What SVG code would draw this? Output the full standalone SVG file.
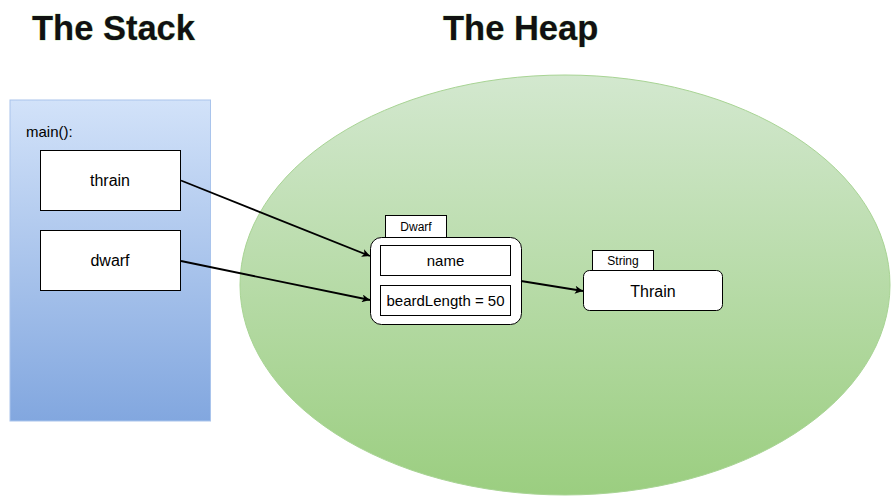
<svg xmlns="http://www.w3.org/2000/svg" width="891" height="501" viewBox="0 0 891 501">
<style>
.title{font-family:"Liberation Sans",Arial,sans-serif;font-weight:bold;font-size:34.5px;fill:#111;stroke:#a6d48f;stroke-width:0.6px;paint-order:stroke}
.t{font-family:"Liberation Sans",Arial,sans-serif;fill:#000;text-anchor:middle}
.box{fill:#fff;stroke:#000;stroke-width:1}
.conn{fill:none;stroke:#000;stroke-width:1.8}
</style>
<defs>
<linearGradient id="gBlue" x1="0" y1="0" x2="0" y2="1">
<stop offset="0" stop-color="#d2e2f9"/>
<stop offset="1" stop-color="#82a7df"/>
</linearGradient>
<linearGradient id="gGreen" x1="0" y1="0" x2="0" y2="1">
<stop offset="0" stop-color="#d3e8cf"/>
<stop offset="1" stop-color="#9bce80"/>
</linearGradient>
<marker id="arr" viewBox="0 0 10 10" refX="10" refY="5" markerWidth="9" markerHeight="8" orient="auto" markerUnits="userSpaceOnUse">
<path d="M0,0 L10,5 L0,10 L2.5,5 Z" fill="#000"/>
</marker>
</defs>
<rect width="891" height="501" fill="#fff"/>
<text class="title" x="32" y="40">The Stack</text>
<text class="title" x="443" y="40">The Heap</text>
<g id="stack">
<rect x="10" y="100" width="200.5" height="321" fill="url(#gBlue)" stroke="#a9c4ec" stroke-width="1"/>
<text class="t" x="26" y="137" font-size="15" style="text-anchor:start">main():</text>
</g>
<g id="heap">
<ellipse cx="565" cy="285" rx="325" ry="210" fill="url(#gGreen)" stroke="#a8d494" stroke-width="1"/>
</g>
<g id="thrain">
<rect class="box" x="40.5" y="150.5" width="140" height="60"/>
<text class="t" x="110" y="186" font-size="16">thrain</text>
</g>
<g id="dwarf">
<rect class="box" x="40.5" y="230.5" width="140" height="60"/>
<text class="t" x="110" y="266" font-size="16">dwarf</text>
</g>
<g id="dwarfObj">
<rect class="box" x="385.5" y="215.5" width="61" height="22"/>
<text class="t" x="416" y="230.5" font-size="12">Dwarf</text>
<rect class="box" x="370.5" y="237.5" width="151" height="87" rx="11" ry="11"/>
<rect class="box" x="380.5" y="245.5" width="130" height="30"/>
<text class="t" x="445.5" y="266" font-size="15">name</text>
<rect class="box" x="380.5" y="285.5" width="130" height="30"/>
<text class="t" x="445.5" y="306" font-size="15">beardLength = 50</text>
</g>
<g id="stringObj">
<rect class="box" x="592.5" y="250.5" width="61" height="20"/>
<text class="t" x="623" y="264.5" font-size="12">String</text>
<rect class="box" x="583.5" y="270.5" width="139" height="40" rx="6" ry="6"/>
<text class="t" x="653" y="297" font-size="16">Thrain</text>
</g>
<g id="connectors">
<line class="conn" x1="181" y1="180.5" x2="370" y2="256" marker-end="url(#arr)"/>
<line class="conn" x1="181" y1="261" x2="370" y2="300" marker-end="url(#arr)"/>
<line class="conn" x1="521" y1="281" x2="583" y2="291" marker-end="url(#arr)"/>
</g>
</svg>
